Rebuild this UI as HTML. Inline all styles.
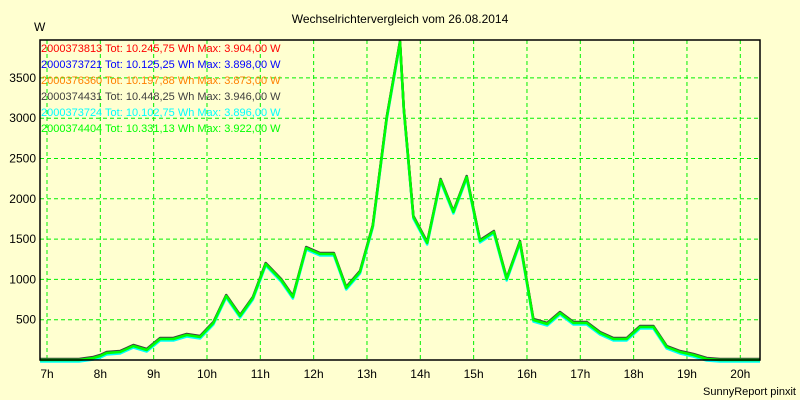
<!DOCTYPE html>
<html><head><meta charset="utf-8"><style>
body{margin:0;background:#ffffd0;}
svg{display:block;font-family:"Liberation Sans",sans-serif;}
</style></head><body>
<svg id="chart" width="800" height="400" viewBox="0 0 800 400" xmlns="http://www.w3.org/2000/svg">
<rect width="800" height="400" fill="#ffffd0"/>
<text x="400" y="23" text-anchor="middle" font-size="12" fill="#000">Wechselrichtervergleich vom 26.08.2014</text>
<text x="34" y="31" font-size="12" fill="#000">W</text>
<text x="796" y="395" text-anchor="end" font-size="11" fill="#000">SunnyReport pinxit</text>
<g id="grid"></g><g id="series"></g><g id="axes"></g><g id="legend"></g>
</svg>
<script>
const hours = [6.87,7.3,7.6,7.87,8.0,8.12,8.37,8.62,8.87,9.12,9.37,9.62,9.87,10.12,10.36,10.62,10.86,11.1,11.39,11.61,11.86,12.12,12.38,12.61,12.87,13.11,13.37,13.62,13.69,13.87,14.13,14.38,14.62,14.87,15.12,15.38,15.62,15.87,16.12,16.38,16.62,16.87,17.12,17.37,17.62,17.87,18.12,18.37,18.62,18.87,19.12,19.37,19.62,20.37];
const powerValues = [0,0,0,25,50,87,99,174,124,261,261,310,285,459,794,546,769,1191,993,782,1390,1315,1315,893,1092,1663,3002,3946,3114,1774,1452,2233,1836,2270,1476,1588,1005,1464,496,447,583,459,459,335,261,261,409,409,161,99,62,12,0,0];
const yTicks = [500,1000,1500,2000,2500,3000,3500];
const xTicks = [7,8,9,10,11,12,13,14,15,16,17,18,19,20];
const xTickLabels = ["7h","8h","9h","10h","11h","12h","13h","14h","15h","16h","17h","18h","19h","20h"];
const seriesNames = ["2000373813","2000373721","2000376360","2000374431","2000373724","2000374404"];
const seriesTotals = ["10.245,75","10.125,25","10.197,88","10.448,25","10.102,75","10.331,13"];
const seriesMax = ["3.904,00","3.898,00","3.873,00","3.946,00","3.896,00","3.922,00"];
const seriesColors = ["#ff0000","#0000ff","#ff8000","#404040","#00ffff","#00ff00"];

const NS="http://www.w3.org/2000/svg";
const L=40,R=760,T=40,B=360;
const x=h=>47+(h-7)*53.33;
const y=v=>B-v*0.0806;
function mk(tag,attrs,parent){const e=document.createElementNS(NS,tag);for(const k in attrs)e.setAttribute(k,attrs[k]);parent.appendChild(e);return e;}
const grid=document.getElementById('grid'),axes=document.getElementById('axes'),ser=document.getElementById('series'),leg=document.getElementById('legend');
yTicks.forEach(v=>{
 const g=mk('line',{x1:L,x2:R,y1:y(v),y2:y(v),stroke:'#00f000','stroke-dasharray':'4,3'},grid);
 
 
 const t=mk('text',{x:36,y:y(v)+4,'text-anchor':'end','font-size':'12',fill:'#000'},axes);
 t.textContent=v;
 
 
});
xTicks.forEach((h,i)=>{
 const g=mk('line',{x1:x(h),x2:x(h),y1:T,y2:B,stroke:'#00f000','stroke-dasharray':'4,3'},grid);
 
 
 const t=mk('text',{x:x(h),y:378,'text-anchor':'middle','font-size':'12',fill:'#000'},axes);
 t.textContent=xTickLabels[i];
 
 
});
const frame=mk('rect',{x:L,y:T,width:R-L,height:B-T,fill:'none',stroke:'#000','stroke-width':1.5},axes);


const offsets=[0,0.5,0,-1,1.5,0];
const order=[1,0,2,4,3,5];
order.forEach(i=>{
 const pts=hours.map((h,j)=>x(h).toFixed(1)+','+(y(powerValues[j])+offsets[i]).toFixed(1)).join(' ');
 const p=mk('polyline',{points:pts,fill:'none',stroke:seriesColors[i],'stroke-width':2.5,'stroke-linejoin':'round'},ser);
 
 
});
seriesNames.forEach((n,i)=>{
 const t=mk('text',{x:41,y:52+i*16,'font-size':'11',fill:seriesColors[i]},leg);
 t.textContent=n+' Tot: '+seriesTotals[i]+' Wh Max: '+seriesMax[i]+' W';
 
 
});
</script>
</body></html>
